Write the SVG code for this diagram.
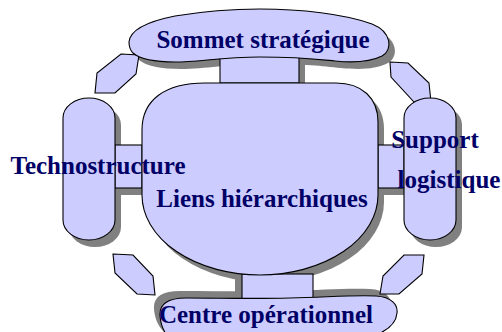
<svg xmlns="http://www.w3.org/2000/svg" xmlns:xlink="http://www.w3.org/1999/xlink" width="502" height="332" viewBox="0 0 502 332">
<style>
.sh{fill:#808080;stroke:none}
.nd{fill:#CCCCFF;stroke:#000;stroke-width:1.1}
.lb{font-family:"Liberation Serif","Times New Roman",serif;font-weight:bold;font-size:25px;fill:#000066}
</style>
<defs>
<path id="pTop" d="M 129,42 C 130,30 145,22 175,16 C 205,11 235,9 260,9 C 300,9 345,14 372,24 C 392,32 393,50 382,56 C 370,62 355,63 335,61 C 315,59 300,57 260,57 C 220,57 200,62 175,62 C 155,62 140,59 133,53 C 130,50 129,46 129,42 Z"/>
<path id="pMain" d="M 142,130 C 142,100 165,83 205,83 L 336,83 C 362,83 378,98 378,122 L 378,195 A 118 80 0 0 1 142,195 Z"/>
<path id="pLeft" d="M 63,118 A 26 20 0 0 1 115,118 L 115,220 A 26 20 0 0 1 63,220 Z"/>
<path id="pRight" d="M 404,118 A 26 20 0 0 1 456,118 L 456,220 A 26 20 0 0 1 404,220 Z"/>
<path id="pBot" d="M 160,316 C 159,304 168,298 186,298 C 220,298 250,299 290,298 C 330,297 352,295 376,296 C 392,297 398,305 397,313 C 396,325 386,332 370,337 L 360,345 L 178,345 C 166,338 161,328 160,316 Z"/>
<rect id="cTop" x="220" y="50" width="79" height="33"/>
<rect id="cLeft" x="115" y="145" width="27" height="43"/>
<rect id="cRight" x="378" y="145" width="26" height="43"/>
<rect id="cBot" x="242" y="274" width="71" height="28"/>
</defs>
<g id="shadows">
<use xlink:href="#pTop" class="sh" transform="translate(6,7)"/>
<use xlink:href="#pMain" class="sh" transform="translate(6,7)"/>
<use xlink:href="#pLeft" class="sh" transform="translate(6,7)"/>
<use xlink:href="#pRight" class="sh" transform="translate(6,7)"/>
<use xlink:href="#pBot" class="sh" transform="translate(-6,-7)"/>
<use xlink:href="#cTop" class="sh" transform="translate(6,7)"/>
<use xlink:href="#cLeft" class="sh" transform="translate(6,7)"/>
<use xlink:href="#cRight" class="sh" transform="translate(6,7)"/>
<use xlink:href="#cBot" class="sh" transform="translate(-7,-7)"/>
</g>
<g id="connectors">
<use xlink:href="#cTop" class="nd"/>
<use xlink:href="#cLeft" class="nd"/>
<use xlink:href="#cRight" class="nd"/>
<use xlink:href="#cBot" class="nd"/>
<polygon class="nd" points="121,54 139,55 136,74 115,93 95,93 97,73"/>
<polygon class="nd" points="390,62 408,63 429,83 431,102 414,102 391,77"/>
<polygon class="nd" points="113,254 133,255 153,276 155,295 137,294 115,273"/>
<polygon class="nd" points="404,255 424,255 422,274 399,294 380,294 383,276"/>
</g>
<g id="liens">
<use xlink:href="#pMain" class="nd"/>
<text class="lb" x="262" y="207" text-anchor="middle">Liens hiérarchiques</text>
</g>
<g id="sommet">
<use xlink:href="#pTop" class="nd"/>
<text class="lb" x="263" y="48" text-anchor="middle">Sommet stratégique</text>
</g>
<g id="centre">
<use xlink:href="#pBot" class="nd"/>
<text class="lb" x="266" y="323" text-anchor="middle">Centre opérationnel</text>
</g>
<g id="technostructure">
<use xlink:href="#pLeft" class="nd"/>
<text class="lb" x="98" y="174" text-anchor="middle">Technostructure</text>
</g>
<g id="support">
<use xlink:href="#pRight" class="nd"/>
<text class="lb" x="435" y="148" text-anchor="middle">Support</text>
<text class="lb" x="449" y="188" text-anchor="middle">logistique</text>
</g>
</svg>
